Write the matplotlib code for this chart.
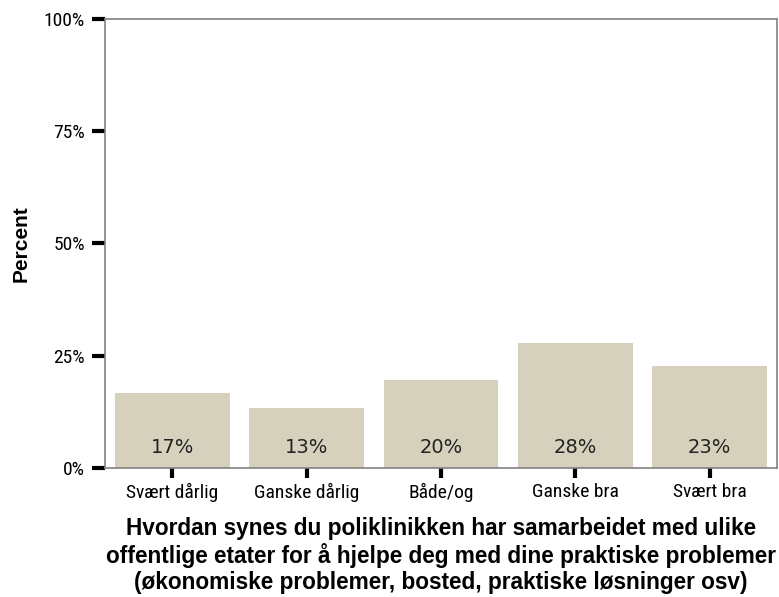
import numpy as np
import matplotlib.pyplot as plt
from matplotlib.ticker import FuncFormatter

categories = ["Svært dårlig", "Ganske dårlig", "Både/og", "Ganske bra", "Svært bra"]
percent = [16.6, 13.4, 19.5, 27.8, 22.7]
bar_labels = ["17%", "13%", "20%", "28%", "23%"]
yticks = [0, 25, 50, 75, 100]

fig = plt.figure(figsize=(7.79, 5.97), dpi=100)
ax = fig.add_axes([0.1348, 0.2161, 0.8626, 0.7521])

x = np.arange(len(categories))
ax.bar(x, percent, width=0.855, color="#d6d1bd", edgecolor="none", zorder=2)

for xi, lab in zip(x, bar_labels):
    ax.text(xi, 4.5, lab, ha="center", va="center", fontsize=14,
            family="DejaVu Sans", color="#222222", zorder=3)

ax.set_xlim(-0.5, 4.5)
ax.set_ylim(0, 100)
ax.set_xticks(x)
ax.set_xticklabels(categories, family="Roboto Condensed", fontsize=14)
ax.set_yticks(yticks)
ax.yaxis.set_major_formatter(FuncFormatter(lambda v, p: f"{v:.0f}%"))
for t in ax.get_yticklabels():
    t.set_family("Roboto Condensed")
    t.set_fontsize(14)

ax.tick_params(axis="y", direction="out", width=3, length=9.5, color="black", pad=5)
ax.tick_params(axis="x", direction="out", width=3, length=7.5, color="black", pad=3)
for s in ax.spines.values():
    s.set_color("#808080")
    s.set_linewidth(1.2)

ax.set_ylabel("Percent", fontsize=15, fontweight="bold", family="Liberation Sans", labelpad=9)
ax.set_xlabel("Hvordan synes du poliklinikken har samarbeidet med ulike\n"
              "offentlige etater for å hjelpe deg med dine praktiske problemer\n"
              "(økonomiske problemer, bosted, praktiske løsninger osv)",
              fontsize=16.3, fontweight="bold", family="Liberation Sans",
              linespacing=1.15, labelpad=11)

fig.savefig("out.png", dpi=100)
